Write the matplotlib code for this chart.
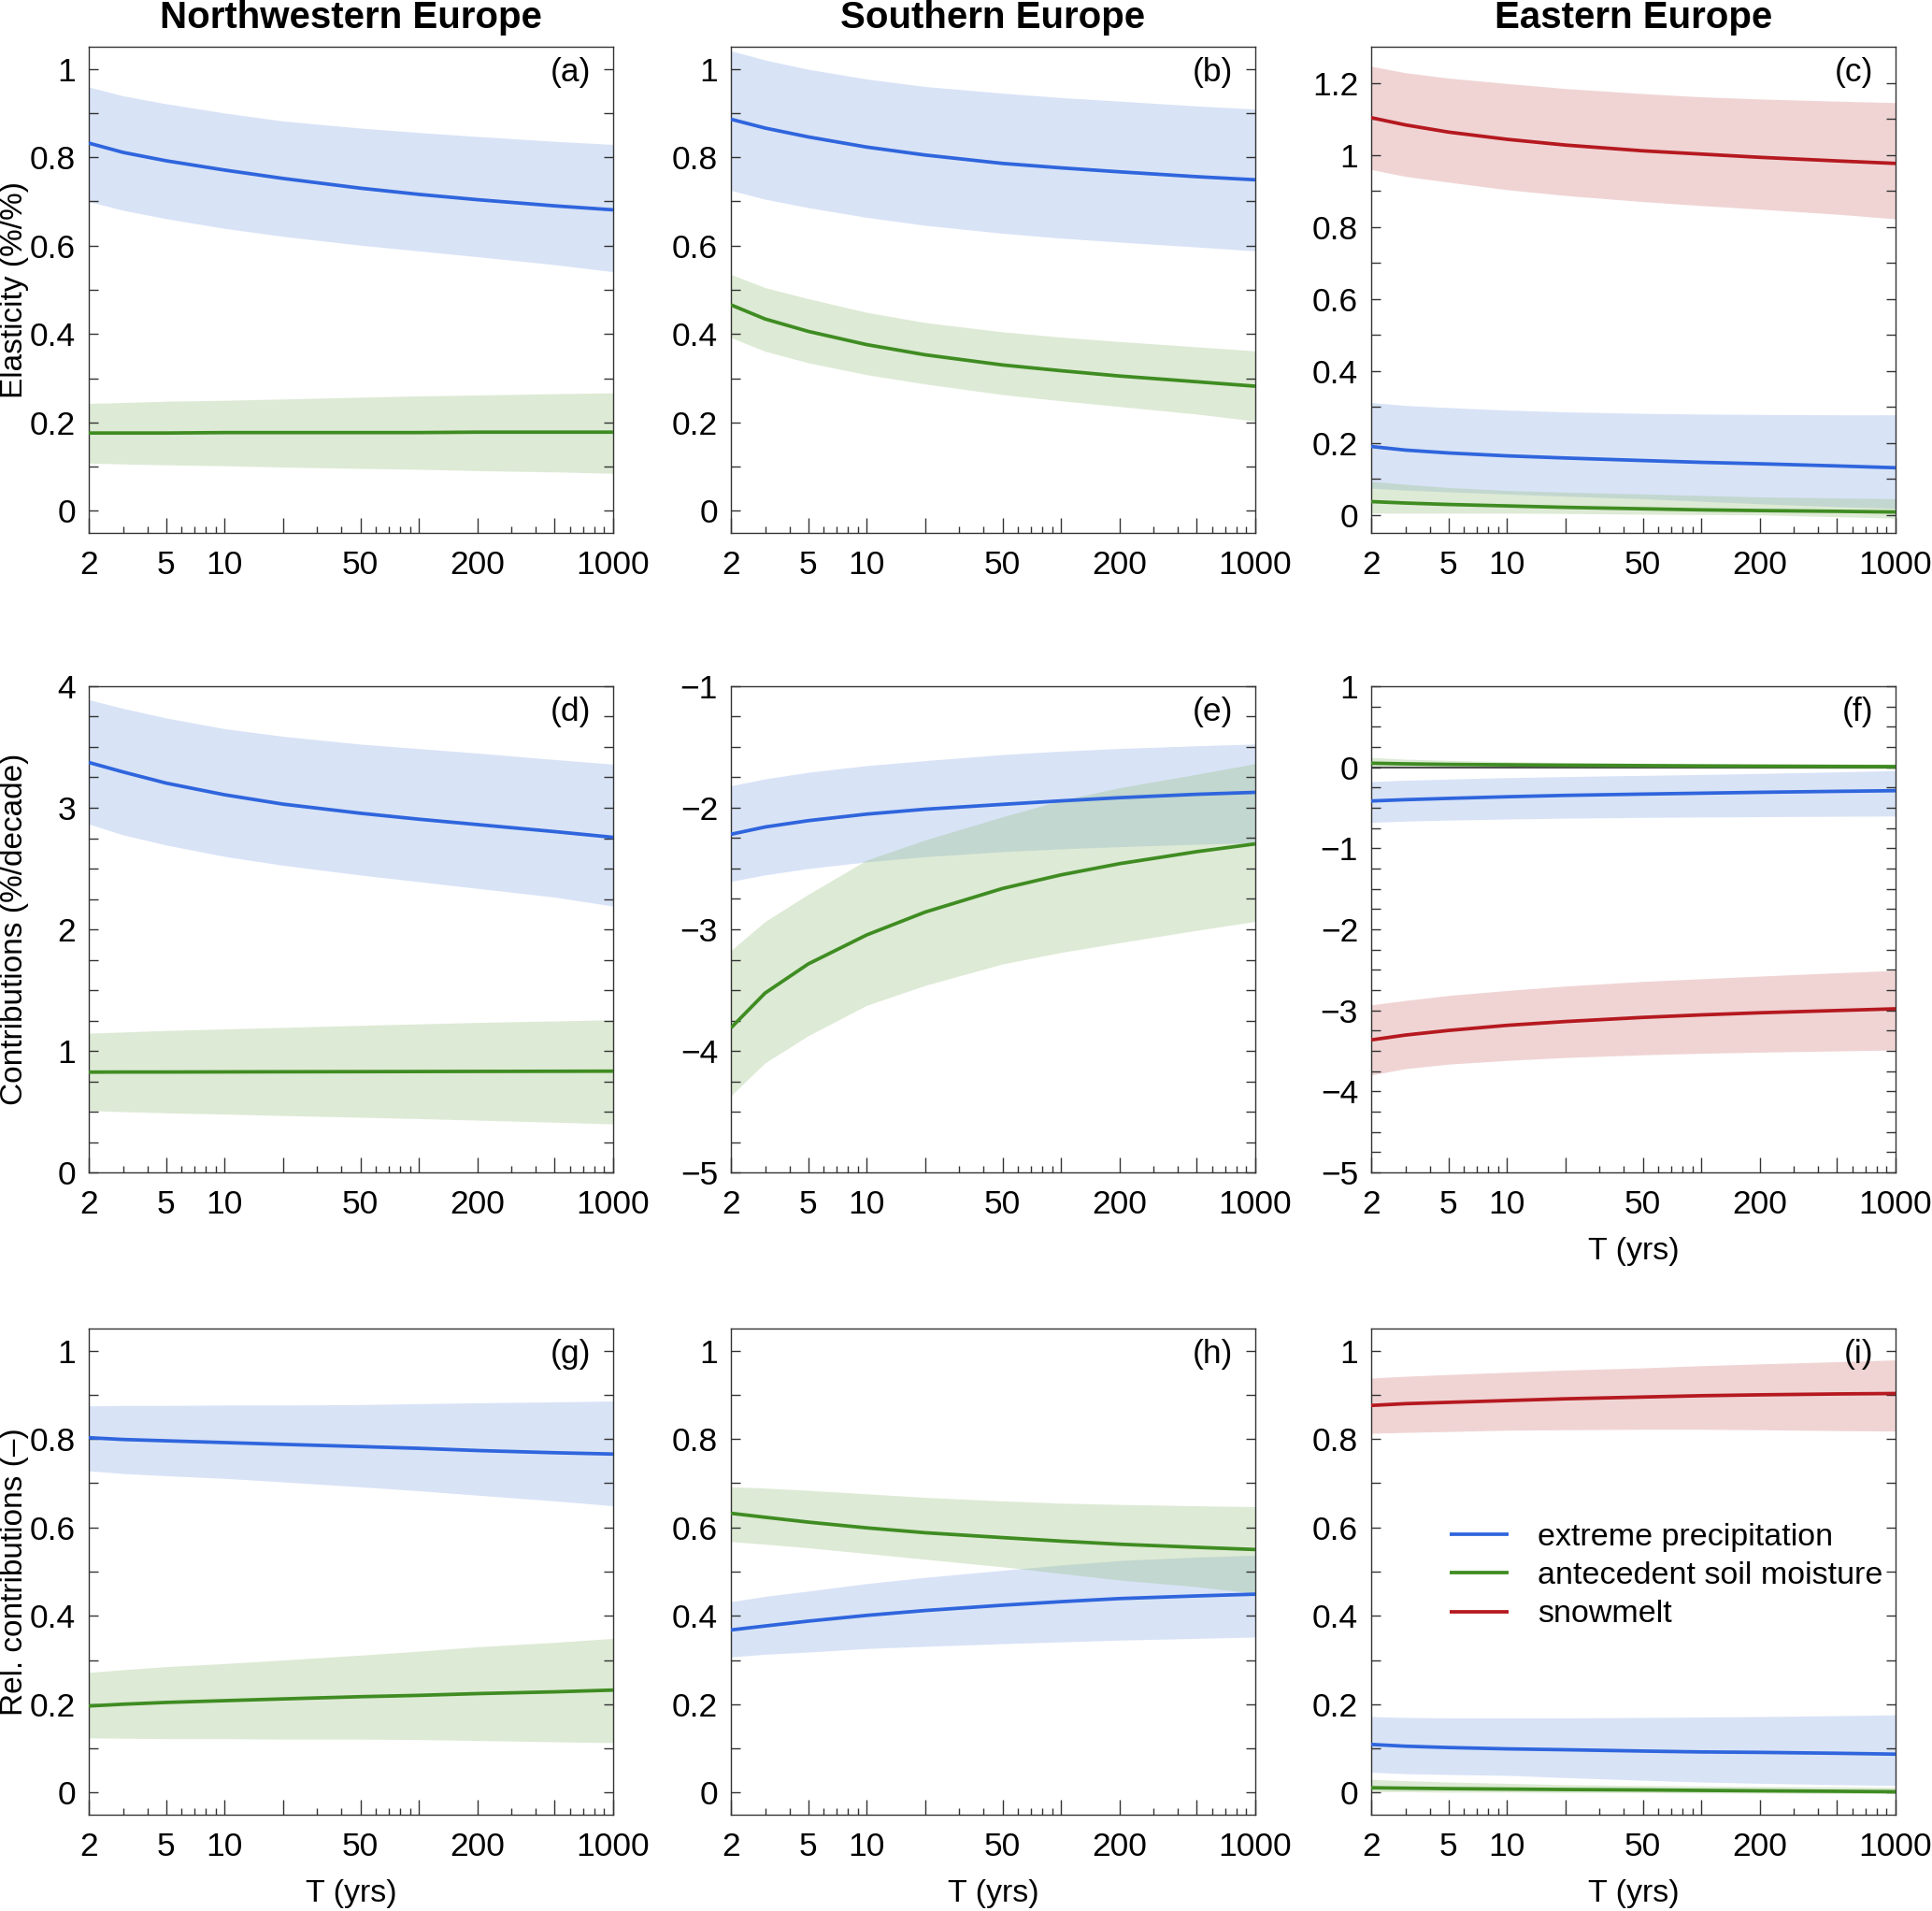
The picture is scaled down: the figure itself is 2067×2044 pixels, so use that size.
import numpy as np
import matplotlib
matplotlib.use("Agg")
import matplotlib.pyplot as plt
from matplotlib.ticker import FixedLocator, FixedFormatter, NullFormatter

plt.rcParams['font.family'] = ['Liberation Sans', 'DejaVu Sans']

# ---------------- data ----------------
T = [2, 3, 5, 10, 20, 50, 100, 200, 500, 1000]

regions = ["Northwestern Europe", "Southern Europe", "Eastern Europe"]
row_labels = ["Elasticity (%/%)", "Contributions (%/decade)", "Rel. contributions (\u2013)"]
panel_tags = ["(a)", "(b)", "(c)", "(d)", "(e)", "(f)", "(g)", "(h)", "(i)"]
series_names = ["extreme precipitation", "antecedent soil moisture", "snowmelt"]

# panel (a)
a_prec = [0.832, 0.811, 0.792, 0.771, 0.752, 0.730, 0.716, 0.704, 0.690, 0.681]
a_prec_lo = [0.700, 0.680, 0.661, 0.639, 0.621, 0.601, 0.588, 0.575, 0.557, 0.541]
a_prec_hi = [0.959, 0.939, 0.921, 0.900, 0.882, 0.866, 0.856, 0.847, 0.836, 0.829]
a_soil = [0.176, 0.176, 0.176, 0.177, 0.177, 0.177, 0.177, 0.178, 0.178, 0.178]
a_soil_lo = [0.108, 0.106, 0.104, 0.102, 0.099, 0.096, 0.094, 0.091, 0.088, 0.085]
a_soil_hi = [0.243, 0.245, 0.248, 0.250, 0.253, 0.257, 0.260, 0.262, 0.265, 0.267]

# panel (b)
b_prec = [0.886, 0.866, 0.846, 0.823, 0.805, 0.786, 0.776, 0.767, 0.756, 0.749]
b_prec_lo = [0.725, 0.705, 0.686, 0.664, 0.646, 0.628, 0.617, 0.608, 0.597, 0.588]
b_prec_hi = [1.041, 1.020, 0.999, 0.977, 0.960, 0.945, 0.935, 0.927, 0.916, 0.909]
b_soil = [0.466, 0.434, 0.406, 0.376, 0.353, 0.330, 0.317, 0.305, 0.292, 0.282]
b_soil_lo = [0.392, 0.361, 0.335, 0.308, 0.287, 0.263, 0.249, 0.236, 0.219, 0.203]
b_soil_hi = [0.535, 0.505, 0.480, 0.449, 0.426, 0.405, 0.393, 0.383, 0.371, 0.362]

# panel (c)
c_prec = [0.190, 0.180, 0.172, 0.164, 0.158, 0.151, 0.146, 0.142, 0.136, 0.131]
c_prec_lo = [0.074, 0.069, 0.064, 0.058, 0.052, 0.045, 0.038, 0.031, 0.023, 0.018]
c_prec_hi = [0.312, 0.304, 0.298, 0.291, 0.286, 0.282, 0.280, 0.279, 0.278, 0.278]
c_soil = [0.037, 0.033, 0.029, 0.025, 0.021, 0.017, 0.014, 0.012, 0.010, 0.008]
c_soil_lo = [0.005, 0.005, 0.005, 0.005, 0.004, 0.002, 0.001, 0.000, -0.005, -0.009]
c_soil_hi = [0.093, 0.085, 0.076, 0.068, 0.063, 0.058, 0.054, 0.050, 0.047, 0.045]
c_snow = [1.103, 1.083, 1.063, 1.043, 1.027, 1.011, 1.002, 0.993, 0.983, 0.976]
c_snow_lo = [0.959, 0.940, 0.924, 0.903, 0.887, 0.870, 0.859, 0.849, 0.835, 0.822]
c_snow_hi = [1.246, 1.228, 1.213, 1.198, 1.184, 1.170, 1.161, 1.155, 1.149, 1.145]

# panel (d)
d_prec = [3.373, 3.295, 3.203, 3.107, 3.030, 2.955, 2.906, 2.862, 2.804, 2.757]
d_prec_lo = [2.867, 2.777, 2.694, 2.600, 2.527, 2.447, 2.392, 2.337, 2.265, 2.191]
d_prec_hi = [3.890, 3.818, 3.739, 3.651, 3.588, 3.524, 3.487, 3.450, 3.397, 3.359]
d_soil = [0.825, 0.826, 0.826, 0.827, 0.828, 0.829, 0.830, 0.831, 0.832, 0.833]
d_soil_lo = [0.509, 0.500, 0.490, 0.480, 0.468, 0.454, 0.443, 0.430, 0.413, 0.399]
d_soil_hi = [1.146, 1.155, 1.168, 1.180, 1.193, 1.210, 1.222, 1.234, 1.246, 1.256]

# panel (e)
e_prec = [-2.218, -2.158, -2.106, -2.052, -2.012, -1.972, -1.943, -1.917, -1.889, -1.873]
e_prec_lo = [-2.606, -2.552, -2.500, -2.445, -2.402, -2.361, -2.338, -2.320, -2.300, -2.288]
e_prec_hi = [-1.819, -1.762, -1.708, -1.653, -1.612, -1.562, -1.534, -1.512, -1.490, -1.475]
e_soil = [-3.811, -3.524, -3.285, -3.046, -2.858, -2.664, -2.552, -2.460, -2.361, -2.297]
e_soil_lo = [-4.369, -4.098, -3.875, -3.625, -3.461, -3.285, -3.190, -3.110, -3.008, -2.935]
e_soil_hi = [-3.174, -2.935, -2.712, -2.430, -2.265, -2.074, -1.940, -1.835, -1.724, -1.637]

# panel (f)
f_prec = [-0.416, -0.400, -0.384, -0.364, -0.347, -0.331, -0.320, -0.309, -0.297, -0.289]
f_prec_lo = [-0.680, -0.664, -0.652, -0.639, -0.628, -0.619, -0.614, -0.610, -0.605, -0.602]
f_prec_hi = [-0.177, -0.160, -0.146, -0.128, -0.115, -0.100, -0.089, -0.076, -0.057, -0.041]
f_soil = [0.050, 0.042, 0.035, 0.030, 0.025, 0.020, 0.016, 0.013, 0.010, 0.008]
f_soil_lo = [-0.010, -0.010, -0.012, -0.013, -0.014, -0.015, -0.016, -0.017, -0.018, -0.020]
f_soil_hi = [0.120, 0.100, 0.085, 0.070, 0.060, 0.052, 0.047, 0.044, 0.042, 0.040]
f_snow = [-3.365, -3.305, -3.248, -3.185, -3.138, -3.087, -3.056, -3.030, -3.002, -2.981]
f_snow_lo = [-3.798, -3.720, -3.664, -3.618, -3.582, -3.549, -3.530, -3.516, -3.501, -3.489]
f_snow_hi = [-2.932, -2.878, -2.816, -2.755, -2.700, -2.643, -2.610, -2.577, -2.536, -2.507]

# panel (g)
g_prec = [0.803, 0.799, 0.796, 0.792, 0.788, 0.783, 0.779, 0.774, 0.769, 0.766]
g_prec_lo = [0.728, 0.722, 0.717, 0.711, 0.703, 0.692, 0.683, 0.673, 0.660, 0.649]
g_prec_hi = [0.875, 0.876, 0.876, 0.877, 0.877, 0.878, 0.880, 0.882, 0.884, 0.886]
g_soil = [0.196, 0.200, 0.204, 0.208, 0.212, 0.217, 0.220, 0.224, 0.228, 0.232]
g_soil_lo = [0.124, 0.123, 0.122, 0.122, 0.121, 0.121, 0.120, 0.118, 0.115, 0.113]
g_soil_hi = [0.272, 0.278, 0.285, 0.292, 0.300, 0.311, 0.320, 0.330, 0.340, 0.349]

# panel (h)
h_prec = [0.368, 0.377, 0.388, 0.401, 0.412, 0.424, 0.432, 0.439, 0.445, 0.449]
h_prec_lo = [0.307, 0.313, 0.318, 0.326, 0.331, 0.337, 0.341, 0.345, 0.349, 0.352]
h_prec_hi = [0.432, 0.444, 0.456, 0.473, 0.487, 0.503, 0.515, 0.525, 0.533, 0.537]
h_soil = [0.632, 0.623, 0.612, 0.599, 0.588, 0.577, 0.569, 0.562, 0.555, 0.550]
h_soil_lo = [0.568, 0.562, 0.554, 0.541, 0.528, 0.511, 0.496, 0.481, 0.466, 0.451]
h_soil_hi = [0.692, 0.689, 0.684, 0.676, 0.668, 0.660, 0.655, 0.652, 0.649, 0.647]

# panel (i)
i_prec = [0.109, 0.105, 0.102, 0.099, 0.097, 0.094, 0.092, 0.091, 0.089, 0.087]
i_prec_lo = [0.046, 0.043, 0.041, 0.039, 0.034, 0.028, 0.024, 0.021, 0.018, 0.016]
i_prec_hi = [0.172, 0.170, 0.169, 0.169, 0.169, 0.170, 0.171, 0.172, 0.174, 0.176]
i_soil = [0.011, 0.010, 0.009, 0.008, 0.007, 0.006, 0.005, 0.004, 0.003, 0.002]
i_soil_lo = [0.002, 0.002, 0.001, 0.001, 0.000, 0.000, -0.001, -0.001, -0.002, -0.002]
i_soil_hi = [0.030, 0.027, 0.024, 0.021, 0.018, 0.016, 0.015, 0.014, 0.013, 0.012]
i_snow = [0.876, 0.880, 0.883, 0.887, 0.891, 0.895, 0.898, 0.900, 0.902, 0.903]
i_snow_lo = [0.813, 0.815, 0.817, 0.820, 0.821, 0.822, 0.822, 0.821, 0.819, 0.818]
i_snow_hi = [0.938, 0.942, 0.946, 0.951, 0.956, 0.961, 0.966, 0.970, 0.975, 0.979]

x_major = [2, 5, 10, 20, 50, 100, 200, 500, 1000]
x_major_labels = ["2", "5", "10", "", "50", "", "200", "", "1000"]
x_minor = [3, 4, 6, 7, 8, 9, 30, 40, 60, 70, 80, 90, 300, 400, 600, 700, 800, 900]

# ---------------- styling ----------------
line_col = {"prec": "#2F65DD", "soil": "#3F8C22", "snow": "#B5191F"}
band_col = {"prec": "#80A5E4", "soil": "#91BC76", "snow": "#D07373"}
band_alpha = 0.3

frac_major = np.round(np.arange(0, 1.01, 0.2), 2)
frac_minor = np.round(np.arange(0.1, 1.0, 0.2), 2)

panels = [
    dict(series=[("prec", a_prec, a_prec_lo, a_prec_hi), ("soil", a_soil, a_soil_lo, a_soil_hi)],
         ylim=(-0.05, 1.05), major=frac_major, minor=frac_minor),
    dict(series=[("prec", b_prec, b_prec_lo, b_prec_hi), ("soil", b_soil, b_soil_lo, b_soil_hi)],
         ylim=(-0.05, 1.05), major=frac_major, minor=frac_minor),
    dict(series=[("prec", c_prec, c_prec_lo, c_prec_hi), ("soil", c_soil, c_soil_lo, c_soil_hi),
                 ("snow", c_snow, c_snow_lo, c_snow_hi)],
         ylim=(-0.05, 1.3), major=np.round(np.arange(0, 1.21, 0.2), 2), minor=np.round(np.arange(0.1, 1.3, 0.2), 2)),
    dict(series=[("prec", d_prec, d_prec_lo, d_prec_hi), ("soil", d_soil, d_soil_lo, d_soil_hi)],
         ylim=(0, 4), major=np.arange(0, 5, 1), minor=np.arange(0, 4.01, 0.25)),
    dict(series=[("prec", e_prec, e_prec_lo, e_prec_hi), ("soil", e_soil, e_soil_lo, e_soil_hi)],
         ylim=(-5, -1), major=np.arange(-5, 0, 1), minor=np.arange(-5, -0.99, 0.25)),
    dict(series=[("prec", f_prec, f_prec_lo, f_prec_hi), ("soil", f_soil, f_soil_lo, f_soil_hi),
                 ("snow", f_snow, f_snow_lo, f_snow_hi)],
         ylim=(-5, 1), major=np.arange(-5, 2, 1), minor=np.arange(-5, 1.01, 0.25), zero=True),
    dict(series=[("prec", g_prec, g_prec_lo, g_prec_hi), ("soil", g_soil, g_soil_lo, g_soil_hi)],
         ylim=(-0.05, 1.05), major=frac_major, minor=frac_minor),
    dict(series=[("prec", h_prec, h_prec_lo, h_prec_hi), ("soil", h_soil, h_soil_lo, h_soil_hi)],
         ylim=(-0.05, 1.05), major=frac_major, minor=frac_minor),
    dict(series=[("prec", i_prec, i_prec_lo, i_prec_hi), ("soil", i_soil, i_soil_lo, i_soil_hi),
                 ("snow", i_snow, i_snow_lo, i_snow_hi)],
         ylim=(-0.05, 1.05), major=frac_major, minor=frac_minor, legend=True),
]

def fmt(v):
    s = "%g" % v
    return s.replace("-", "\u2212")

W, H = 2067, 2044
fig = plt.figure(figsize=(W / 100, H / 100), dpi=100)

col_left = [95, 782, 1467]
col_w = 561
row_top = [50, 734, 1421]
row_h = 520
FS_TICK = 25.5
FS_TEXT = 24.5
spine_col = "#333333"

for k, p in enumerate(panels):
    r, c = divmod(k, 3)
    rect = [col_left[c] / W, 1 - (row_top[r] + row_h) / H, col_w / W, row_h / H]
    ax = fig.add_axes(rect)
    ax.set_xscale("log")
    ax.set_xlim(2, 1000)
    ax.set_ylim(*p["ylim"])

    handles = {}
    for name, mid, lo, hi in p["series"]:
        ax.fill_between(T, lo, hi, color=band_col[name], alpha=band_alpha, lw=0, zorder=1)
    if p.get("zero"):
        ax.axhline(0, color="#333333", lw=1.2, zorder=1.5)
    for name, mid, lo, hi in p["series"]:
        ln, = ax.plot(T, mid, color=line_col[name], lw=2.7, zorder=3, solid_capstyle="butt")
        handles[name] = ln

    ax.xaxis.set_major_locator(FixedLocator(x_major))
    ax.xaxis.set_major_formatter(FixedFormatter(x_major_labels))
    ax.xaxis.set_minor_locator(FixedLocator(x_minor))
    ax.xaxis.set_minor_formatter(NullFormatter())
    ax.yaxis.set_major_locator(FixedLocator(list(p["major"])))
    ax.yaxis.set_major_formatter(FixedFormatter([fmt(v) for v in p["major"]]))
    ax.yaxis.set_minor_locator(FixedLocator(list(p["minor"])))

    ax.tick_params(axis="x", which="major", direction="in", length=11.5, width=1.0,
                   color=spine_col, labelsize=FS_TICK, pad=13, top=False, bottom=True)
    ax.tick_params(axis="x", which="minor", direction="in", length=5, width=1.0,
                   color=spine_col, top=False, bottom=True)
    ax.tick_params(axis="y", which="both", direction="in", length=7, width=1.0,
                   color=spine_col, labelsize=FS_TICK, pad=10, left=True, right=True)
    for sp in ax.spines.values():
        sp.set_color(spine_col)
        sp.set_linewidth(1.0)

    ax.text(0.957, 0.947, panel_tags[k], transform=ax.transAxes, ha="right", va="center", fontsize=FS_TICK)

    if p.get("legend"):
        hl = [handles["prec"], handles["soil"], handles["snow"]]
        ax.legend(hl, series_names, loc="upper left", bbox_to_anchor=(0.15, 0.600),
                  frameon=False, fontsize=FS_TEXT, handlelength=1.85, handletextpad=0.9,
                  labelspacing=0.3, borderpad=0, borderaxespad=0)

# column titles
for c in range(3):
    xc = (col_left[c] + col_w / 2) / W
    fig.text(xc, 1 - 19 / H, regions[c], ha="center", va="center", fontsize=29, fontweight="bold")

# row labels
for r in range(3):
    yc = 1 - (row_top[r] + row_h / 2) / H
    fig.text(16 / W, yc, row_labels[r], rotation=90, ha="center", va="center", fontsize=24)

# x labels
for (r, c) in [(1, 2), (2, 0), (2, 1), (2, 2)]:
    xc = (col_left[c] + col_w / 2) / W
    yb = row_top[r] + row_h + 84
    fig.text(xc, 1 - yb / H, "T (yrs)", ha="center", va="center", fontsize=FS_TEXT)

fig.savefig("out.png", dpi=100)
